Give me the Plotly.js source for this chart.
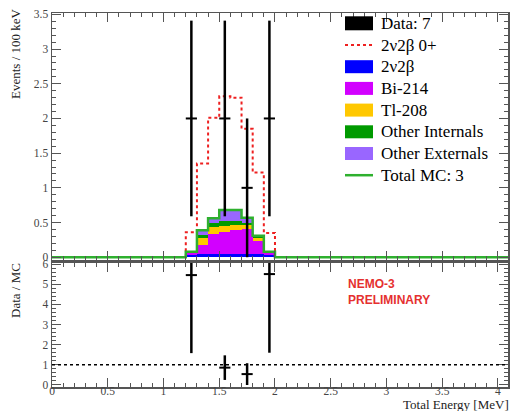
<!DOCTYPE html>
<html>
<head>
<meta charset="utf-8">
<script src="https://cdn.plot.ly/plotly-3.0.1.min.js"></script>
<style>html,body{margin:0;padding:0;background:#fff;}#chart{width:512px;height:411px;}</style>
</head>
<body>
<div id="chart"></div>
<script>
// ---- data ----
const binEdges = [1.2, 1.3, 1.4, 1.5, 1.6, 1.7, 1.8, 1.9, 2.0];
const binCenters = [1.25, 1.35, 1.45, 1.55, 1.65, 1.75, 1.85, 1.95];
const mc2nu2b   = [0.03, 0.05, 0.05, 0.05, 0.05, 0.05, 0.04, 0.03];
const mcBi214   = [0.04, 0.13, 0.29, 0.32, 0.34, 0.36, 0.20, 0.04];
const mcTl208   = [0.00, 0.09, 0.10, 0.08, 0.07, 0.05, 0.04, 0.00];
const mcOtherInt= [0.01, 0.05, 0.06, 0.07, 0.06, 0.03, 0.01, 0.01];
const mcOtherExt= [0.00, 0.07, 0.06, 0.16, 0.16, 0.08, 0.02, 0.00];
const signal0p  = [0.36, 1.35, 2.01, 2.32, 2.30, 1.85, 1.22, 0.35];
const dataX   = [1.25, 1.55, 1.75, 1.95];
const dataY   = [2, 2, 1, 2];
const dataErr = [1.41, 1.41, 1.0, 1.41];
const ratioY   = [5.45, 0.86, 0.54, 5.5];
const ratioErr = [3.87, 0.61, 0.54, 3.9];
const legendLabels = ['Data: 7', '2ν2β 0+', '2ν2β', 'Bi-214', 'Tl-208', 'Other Internals', 'Other Externals', 'Total MC: 3'];
const xMax = 4.09;

// ---- styles ----
const colBlue = '#0000ff', colMag = '#d200ff', colOra = '#ffc800', colGrn = '#009a00', colPur = '#9966ff';
const colTot = '#2eb02e', colRed = '#ee2020';
const serif = 'Liberation Serif';
const y2Top = 6.05;

const total = binCenters.map((_, i) => mc2nu2b[i] + mcBi214[i] + mcTl208[i] + mcOtherInt[i] + mcOtherExt[i]);
const totX = [0].concat(binEdges, [xMax]);
const totY = [0].concat(total, [0, 0]);
const sigX = [binEdges[0]].concat(binEdges);
const sigY = [0].concat(signal0p, [0]);
// stop the ratio error bars at the top edge of the lower panel
const ratioErrPlus = ratioY.map((v, i) => Math.min(ratioErr[i], y2Top - v));

function bar(y, c) {
  return {type: 'bar', x: binCenters, y: y, width: 0.1, marker: {color: c, line: {width: 0}},
          xaxis: 'x', yaxis: 'y', showlegend: false, hoverinfo: 'skip'};
}
const traces = [
  bar(mc2nu2b, colBlue), bar(mcBi214, colMag), bar(mcTl208, colOra), bar(mcOtherInt, colGrn), bar(mcOtherExt, colPur),
  {type: 'scatter', mode: 'lines', x: sigX, y: sigY, line: {shape: 'hv', color: colRed, dash: 'dot', width: 2},
   xaxis: 'x', yaxis: 'y', showlegend: false},
  {type: 'scatter', mode: 'lines', x: totX, y: totY, line: {shape: 'hv', color: colTot, width: 2.5},
   xaxis: 'x', yaxis: 'y', showlegend: false},
  {type: 'scatter', mode: 'markers', x: dataX, y: dataY, marker: {size: 2, color: 'black'},
   error_y: {type: 'data', array: dataErr, color: 'black', thickness: 2.5, width: 0},
   error_x: {type: 'constant', value: 0.05, color: 'black', thickness: 2, width: 0},
   xaxis: 'x', yaxis: 'y', showlegend: false},
  {type: 'scatter', mode: 'markers', x: dataX, y: ratioY, marker: {size: 2, color: 'black'},
   error_y: {type: 'data', symmetric: false, array: ratioErrPlus, arrayminus: ratioErr, color: 'black', thickness: 2.5, width: 0},
   error_x: {type: 'constant', value: 0.05, color: 'black', thickness: 2, width: 0},
   xaxis: 'x2', yaxis: 'y2', showlegend: false}
];

// pixel -> paper helpers (plot area 52..508 x 13..387)
const L = 52, T = 13, W = 456, H = 374;
const px = p => (p - L) / W;
const py = p => 1 - (p - T) / H;

const shapes = [
  {type: 'line', xref: 'paper', yref: 'y2', x0: 0, x1: 1, y0: 1, y1: 1, line: {color: 'black', width: 1.5, dash: 'dot'}}
];
const annotations = [];
const rowY = legendLabels.map((_, i) => 23.3 + 21.7 * i);
const patchCols = [null, null, colBlue, colMag, colOra, colGrn, colPur, null];
legendLabels.forEach((lab, i) => {
  const yc = rowY[i];
  if (i === 0) {
    shapes.push({type: 'rect', xref: 'paper', yref: 'paper', x0: px(345), x1: px(373), y0: py(yc - 7), y1: py(yc + 7),
                 fillcolor: 'black', line: {width: 0}});
  } else if (i === 1) {
    shapes.push({type: 'line', xref: 'paper', yref: 'paper', x0: px(345), x1: px(373), y0: py(yc), y1: py(yc),
                 line: {color: colRed, width: 2, dash: 'dot'}});
  } else if (i === 7) {
    shapes.push({type: 'line', xref: 'paper', yref: 'paper', x0: px(345), x1: px(373), y0: py(yc), y1: py(yc),
                 line: {color: colTot, width: 2.5}});
  } else {
    shapes.push({type: 'rect', xref: 'paper', yref: 'paper', x0: px(345), x1: px(373), y0: py(yc - 6.5), y1: py(yc + 6.5),
                 fillcolor: patchCols[i], line: {width: 0}});
  }
  annotations.push({xref: 'paper', yref: 'paper', x: px(379), y: py(yc), xanchor: 'left', yanchor: 'middle',
                    text: lab, showarrow: false, font: {family: serif, size: 17, color: 'black'}});
});
annotations.push({xref: 'paper', yref: 'paper', x: px(15), y: py(54), xanchor: 'center', yanchor: 'middle', textangle: -90,
                  text: 'Events / 100 keV', showarrow: false, font: {family: serif, size: 13, color: '#222'}});
annotations.push({xref: 'paper', yref: 'paper', x: px(15), y: py(291), xanchor: 'center', yanchor: 'middle', textangle: -90,
                  text: 'Data / MC', showarrow: false, font: {family: serif, size: 13, color: '#222'}});
annotations.push({xref: 'paper', yref: 'paper', x: px(511), y: py(404), xanchor: 'right', yanchor: 'middle',
                  text: 'Total Energy [MeV]', showarrow: false, font: {family: serif, size: 13, color: '#222'}});
annotations.push({xref: 'x2', yref: 'y2', x: 2.64, y: 4.63, xanchor: 'left', yanchor: 'middle', align: 'left',
                  text: '<b>NEMO-3<br>PRELIMINARY</b>', showarrow: false,
                  font: {family: 'Liberation Sans', size: 12, color: '#e53030'}});

const axCommon = {showgrid: false, zeroline: false, showline: true, linecolor: '#555', linewidth: 1.5,
                  ticks: 'inside', tickcolor: '#555', mirror: 'ticks',
                  tickfont: {family: serif, size: 11.5, color: '#444'}};
const layout = {
  width: 512, height: 411,
  margin: {l: L, r: 512 - L - W, t: T, b: 411 - T - H, pad: 0},
  paper_bgcolor: 'white', plot_bgcolor: 'white',
  barmode: 'stack', bargap: 0,
  showlegend: false,
  xaxis: Object.assign({}, axCommon, {domain: [0, 1], range: [0, xMax], anchor: 'y', dtick: 0.5, ticklen: 9,
          showticklabels: false, minor: {ticks: 'inside', ticklen: 4, dtick: 0.1, tickcolor: '#555'}}),
  yaxis: Object.assign({}, axCommon, {domain: [py(260), 1], range: [-0.04, 3.52], anchor: 'x', dtick: 0.5, ticklen: 9,
          minor: {ticks: 'inside', ticklen: 4, dtick: 0.1, tickcolor: '#555'}}),
  xaxis2: Object.assign({}, axCommon, {domain: [0, 1], range: [0, xMax], anchor: 'y2', dtick: 0.5, ticklen: 9,
          ticklabelstandoff: -7,
          minor: {ticks: 'inside', ticklen: 4, dtick: 0.1, tickcolor: '#555'}}),
  yaxis2: Object.assign({}, axCommon, {domain: [0, py(263)], range: [-0.1, y2Top], anchor: 'x2', dtick: 1, ticklen: 9,
          minor: {ticks: 'inside', ticklen: 4, dtick: 0.2, tickcolor: '#555'}}),
  shapes: shapes,
  annotations: annotations
};
Plotly.newPlot('chart', traces, layout, {displayModeBar: false, staticPlot: true});
</script>
</body>
</html>
